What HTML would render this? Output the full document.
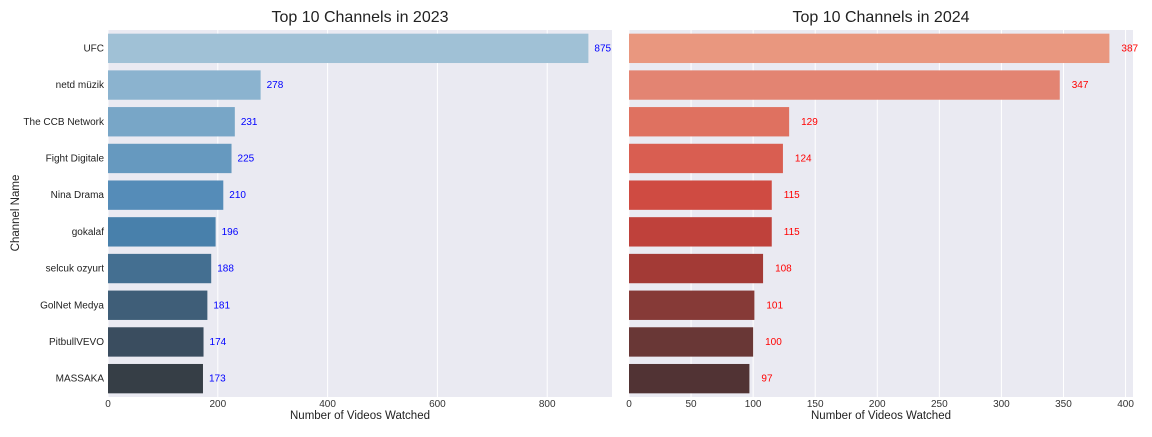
<!DOCTYPE html>
<html><head><meta charset="utf-8"><style>
body{margin:0;background:#fff;font-family:"Liberation Sans",sans-serif;}
svg text{font-family:"Liberation Sans","DejaVu Sans",sans-serif;}
</style></head><body>
<svg id="c" width="1152" height="432" xmlns="http://www.w3.org/2000/svg"></svg>
<script>
const names23 = ["UFC","netd müzik","The CCB Network","Fight Digitale","Nina Drama","gokalaf","selcuk ozyurt","GolNet Medya","PitbullVEVO","MASSAKA"];
const values23 = [875,278,231,225,210,196,188,181,174,173];
const values24 = [387,347,129,124,115,115,108,101,100,97];
const ticks23 = [0,200,400,600,800];
const ticks24 = [0,50,100,150,200,250,300,350,400];
const colors23 = ["#a0c1d6","#8bb3cf","#78a6c7","#6699bf","#558cb8","#4880ab","#446f91","#3f5e78","#3a4d5f","#363e46"];
const colors24 = ["#e9977f","#e38472","#df7160","#d95e51","#cf4b42","#bf413b","#a33a36","#863a37","#693736","#513334"];
const NS="http://www.w3.org/2000/svg";
const svg=document.getElementById('c');
function mk(t,a,p){const e=document.createElementNS(NS,t);for(const k in a)e.setAttribute(k,a[k]);(p||svg).appendChild(e);return e;}
const plotTop=30,plotBot=397;
function panel(x0,x1,xmax,vals,ticks,cols,labColor,labOff,title,showY,key){
  const g=mk('g',{});
  
  
  const bg=mk('rect',{x:x0,y:plotTop,width:x1-x0,height:plotBot-plotTop,fill:'#eaeaf2'},g);
  
  
  const sx=v=>x0+v*(x1-x0)/xmax;
  const band=(plotBot-plotTop)/vals.length;
  ticks.forEach(t=>{
    const gl=mk('line',{x1:sx(t),x2:sx(t),y1:plotTop,y2:plotBot,stroke:'#fff','stroke-width':1},g);
    
    
    const tl=mk('text',{x:sx(t),y:plotBot+10,'font-size':10,'text-anchor':'middle',fill:'#333'},g);
    
    
    tl.textContent=t;
  });
  vals.forEach((v,i)=>{
    const cy=plotTop+band*(i+0.5), h=band*0.8;
    const r=mk('rect',{x:sx(0),y:cy-h/2,width:sx(v)-sx(0),height:h,fill:cols[i]},g);
    
    
    const vl=mk('text',{x:sx(v)+labOff,y:cy+3,'font-size':10,fill:labColor},g);
    
    
    vl.textContent=v;
    if(showY){
      const yl=mk('text',{x:x0-4,y:cy+3,'font-size':10,'text-anchor':'end',fill:'#222'},g);
      
      
      yl.textContent=names23[i];
    }
  });
  const tt=mk('text',{x:(x0+x1)/2,y:22,'font-size':16,'text-anchor':'middle',fill:'#222'},g);
  
  
  tt.textContent=title;
  const xt=mk('text',{x:(x0+x1)/2,y:419,'font-size':11.5,'text-anchor':'middle',fill:'#222'},g);
  
  
  xt.textContent='Number of Videos Watched';
}
panel(108,612,918,values23,ticks23,colors23,'#0000ff',6,'Top 10 Channels in 2023',true,'chart-2023');
panel(629,1133,406,values24,ticks24,colors24,'#ff0000',12,'Top 10 Channels in 2024',false,'chart-2024');
const yt=mk('text',{x:19,y:213,'font-size':11.5,'text-anchor':'middle',fill:'#222',transform:'rotate(-90 19 213)'});


yt.textContent='Channel Name';
</script>
</body></html>
